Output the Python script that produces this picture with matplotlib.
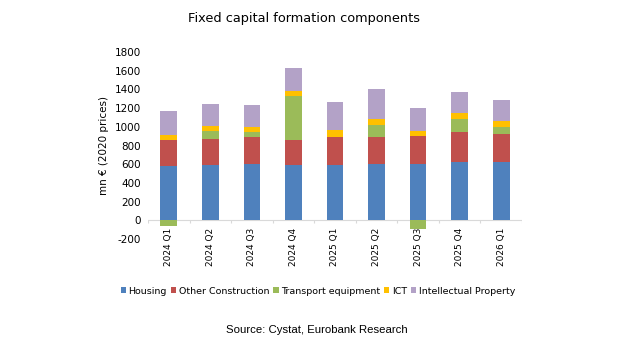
"""Fixed capital formation components, stacked by quarter."""

import matplotlib

matplotlib.use("Agg")
import matplotlib.pyplot as plt
import numpy as np

quarters = ["2024 Q1", "2024 Q2", "2024 Q3", "2024 Q4", "2025 Q1",
            "2025 Q2", "2025 Q3", "2025 Q4", "2026 Q1"]
housing = [579, 596, 600, 589, 593, 600, 607, 621, 628]
other_construction = [284, 274, 288, 274, 298, 291, 295, 319, 298]
transport = [-60, 88, 59, 470, 5, 130, -90, 141, 70]
ict = [49, 46, 49, 46, 67, 60, 56, 63, 71]
intellectual = [256, 245, 232, 253, 298, 319, 238, 231, 224]

series = [
    ("Housing", housing, "#4F81BD"),
    ("Other Construction", other_construction, "#C0504D"),
    ("Transport equipment", transport, "#9BBB59"),
    ("ICT", ict, "#FFC000"),
    ("Intellectual Property", intellectual, "#B3A2C7"),
]

plt.rcParams["font.family"] = ["DejaVu Sans"]
plt.rcParams["axes.unicode_minus"] = False

fig = plt.figure(figsize=(6.27, 3.47), dpi=100)
ax = fig.add_axes([148 / 627, 1 - 239 / 347, 374 / 627, 187 / 347])

x = np.arange(len(quarters))
pos_base = np.zeros(len(quarters))
neg_base = np.zeros(len(quarters))
for name, values, color in series:
    v = np.array(values, dtype=float)
    base = np.where(v >= 0, pos_base, neg_base)
    ax.bar(x, v, width=0.4, bottom=base, color=color, label=name, zorder=2)
    pos_base = pos_base + np.clip(v, 0, None)
    neg_base = neg_base + np.clip(v, None, 0)

ax.set_xlim(-0.5, len(quarters) - 0.5)
ax.set_ylim(-200, 1800)
ax.set_yticks(np.arange(-200, 1801, 200))
ax.set_xticks(x)
ax.set_xticklabels(quarters, rotation=90, va="top")
ax.tick_params(axis="both", length=0, colors="#000000")
ax.tick_params(axis="y", labelsize=7.5, pad=5)
# category labels hang from the zero line, not from the axes bottom
ax.tick_params(axis="x", labelsize=6.5, pad=-8)
for side in ("top", "right", "left", "bottom"):
    ax.spines[side].set_visible(False)
ax.axhline(0, color="#D9D9D9", lw=0.8, zorder=1)
ax.vlines(np.arange(-0.5, len(quarters)), -30, 0, color="#D9D9D9", lw=0.8,
          zorder=1)
ax.set_ylabel("mn € (2020 prices)", fontsize=7.5, labelpad=4)

fig.text(0.485, 0.948, "Fixed capital formation components", ha="center",
         va="center", fontsize=9.3)
fig.legend(loc="center", bbox_to_anchor=(318 / 627, 1 - 291 / 347), ncol=5,
           frameon=False, fontsize=6.8, handlelength=0.55, handleheight=0.55,
           handletextpad=0.25, columnspacing=0.45)
fig.text(0.506, 1 - 330 / 347, "Source: Cystat, Eurobank Research",
         ha="center", va="center", fontsize=8.2, family="Liberation Sans")

fig.savefig("out.png", dpi=100)
